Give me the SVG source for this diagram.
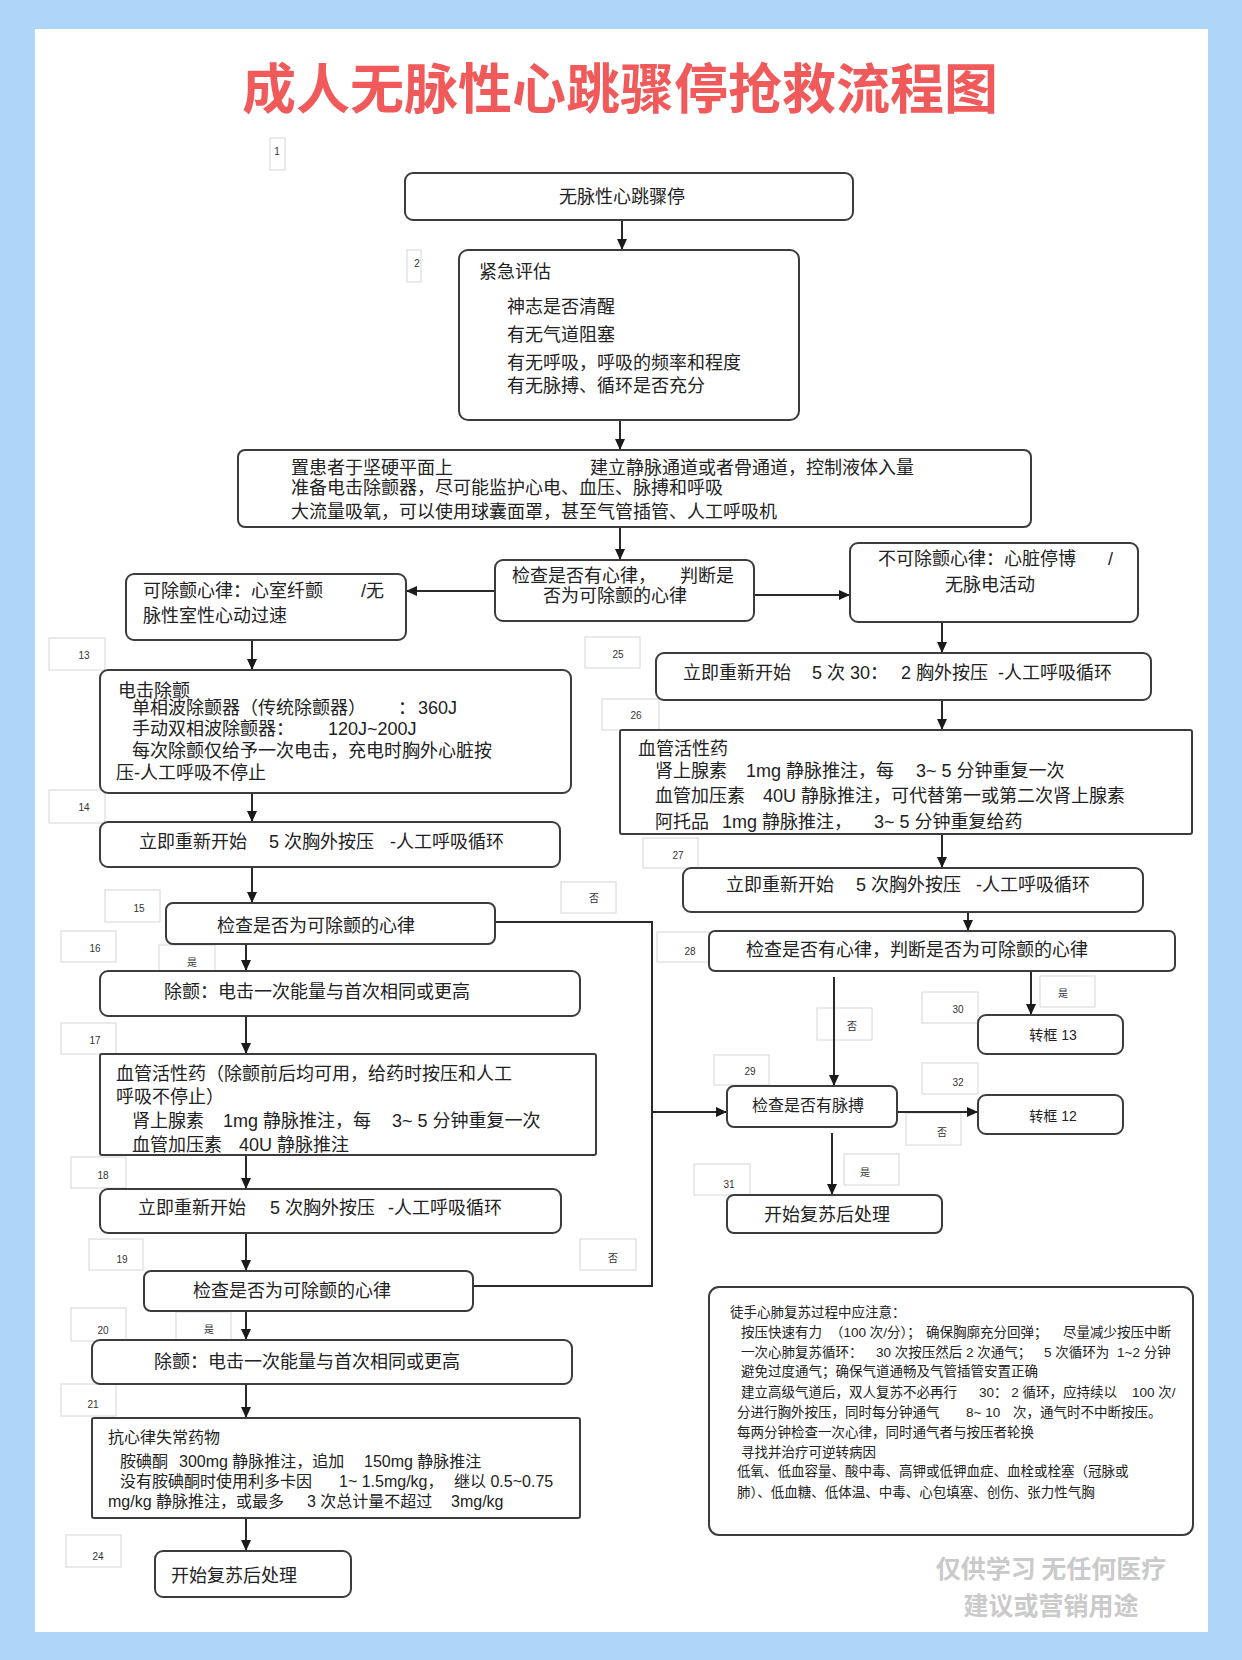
<svg xmlns="http://www.w3.org/2000/svg" width="1242" height="1660" viewBox="0 0 1242 1660">
<defs>
<style>
.t{font-family:"Liberation Sans","Noto Sans CJK SC",sans-serif;font-size:18px;fill:#222}
.s16{font-size:16px}
.s14{font-size:14px}
.s13{font-size:13.5px}
.nb{fill:#fff;stroke:#3c3c3c;stroke-width:2}
.lb rect{fill:#fff;stroke:#d6d6d6;stroke-width:1}
.lb text{font-family:"Liberation Sans","Noto Sans CJK SC",sans-serif;font-size:10px;fill:#333;text-anchor:middle}
.c{fill:none;stroke:#2a2a2a;stroke-width:2}
.ttl{font-family:"Noto Sans CJK SC",sans-serif;font-size:54px;font-weight:bold;fill:#f05a5a;text-anchor:middle}
.wm{font-family:"Noto Sans CJK SC",sans-serif;font-size:25px;font-weight:bold;fill:#cacaca;text-anchor:middle}
</style>
<marker id="ah" markerUnits="userSpaceOnUse" markerWidth="12" markerHeight="10" refX="11" refY="5" orient="auto">
<path d="M0,0 L11,5 L0,10 z" fill="#1a1a1a"/>
</marker>
</defs>
<rect x="0" y="0" width="1242" height="1660" fill="#aed6f8"/>
<rect x="35" y="29" width="1173" height="1603" fill="#fff"/>
<text class="ttl" x="620" y="109">成人无脉性心跳骤停抢救流程图</text>

<g id="labels" class="lb">
<g id="lb1"><rect x="270" y="138" width="15" height="32"/><text x="277" y="155">1</text></g>
<g id="lb2"><rect x="407" y="250" width="14" height="32"/><text x="417" y="267">2</text></g>
<g id="lb13"><rect x="49" y="638" width="56" height="32"/><text x="84" y="659">13</text></g>
<g id="lb14"><rect x="49" y="790" width="56" height="33"/><text x="84" y="811">14</text></g>
<g id="lb15"><rect x="105" y="890" width="55" height="32"/><text x="139" y="912">15</text></g>
<g id="lb16"><rect x="61" y="931" width="55" height="31"/><text x="95" y="952">16</text></g>
<g id="lbY16"><rect x="159" y="945" width="56" height="28"/><text x="192" y="966">是</text></g>
<g id="lb17"><rect x="61" y="1023" width="55" height="31"/><text x="95" y="1044">17</text></g>
<g id="lb18"><rect x="71" y="1157" width="55" height="31"/><text x="103" y="1179">18</text></g>
<g id="lb19"><rect x="89" y="1239" width="54" height="31"/><text x="122" y="1263">19</text></g>
<g id="lbN19"><rect x="580" y="1239" width="56" height="31"/><text x="613" y="1262">否</text></g>
<g id="lb20"><rect x="71" y="1308" width="55" height="33"/><text x="103" y="1334">20</text></g>
<g id="lbY20"><rect x="176" y="1312" width="55" height="29"/><text x="209" y="1333">是</text></g>
<g id="lb21"><rect x="61" y="1384" width="55" height="32"/><text x="93" y="1408">21</text></g>
<g id="lb24"><rect x="66" y="1535" width="55" height="32"/><text x="98" y="1560">24</text></g>
<g id="lbN15"><rect x="561" y="882" width="55" height="31"/><text x="594" y="902">否</text></g>
<g id="lb25"><rect x="585" y="637" width="55" height="31"/><text x="618" y="658">25</text></g>
<g id="lb26"><rect x="602" y="699" width="57" height="31"/><text x="636" y="719">26</text></g>
<g id="lb27"><rect x="643" y="838" width="55" height="30"/><text x="678" y="859">27</text></g>
<g id="lb28"><rect x="657" y="932" width="52" height="30"/><text x="690" y="955">28</text></g>
<g id="lbY30"><rect x="1040" y="976" width="55" height="31"/><text x="1063" y="997">是</text></g>
<g id="lb30"><rect x="922" y="992" width="56" height="31"/><text x="958" y="1013">30</text></g>
<g id="lbN29"><rect x="817" y="1008" width="55" height="32"/><text x="852" y="1030">否</text></g>
<g id="lb29"><rect x="714" y="1055" width="55" height="30"/><text x="750" y="1075">29</text></g>
<g id="lb32"><rect x="922" y="1063" width="56" height="31"/><text x="958" y="1086">32</text></g>
<g id="lbN32"><rect x="906" y="1113" width="55" height="32"/><text x="942" y="1136">否</text></g>
<g id="lbY31"><rect x="844" y="1154" width="55" height="31"/><text x="865" y="1176">是</text></g>
<g id="lb31"><rect x="694" y="1164" width="56" height="31"/><text x="729" y="1188">31</text></g>
</g>

<g id="connectors">
<path class="c" d="M622,220 V250" marker-end="url(#ah)"/>
<path class="c" d="M620,420 V450" marker-end="url(#ah)"/>
<path class="c" d="M620,527 V560" marker-end="url(#ah)"/>
<path class="c" d="M495,591 H406" marker-end="url(#ah)"/>
<path class="c" d="M754,595 H850" marker-end="url(#ah)"/>
<path class="c" d="M942,622 V653" marker-end="url(#ah)"/>
<path class="c" d="M942,700 V730" marker-end="url(#ah)"/>
<path class="c" d="M942,834 V868" marker-end="url(#ah)"/>
<path class="c" d="M968,912 V931" marker-end="url(#ah)"/>
<path class="c" d="M1031,971 V1015" marker-end="url(#ah)"/>
<path class="c" d="M834,977 V1086" marker-end="url(#ah)"/>
<path class="c" d="M897,1112 H978" marker-end="url(#ah)"/>
<path class="c" d="M832,1133 V1195" marker-end="url(#ah)"/>
<path class="c" d="M495,922 H652 V1286 H473"/>
<path class="c" d="M652,1112 H727" marker-end="url(#ah)"/>
<path class="c" d="M252,640 V670" marker-end="url(#ah)"/>
<path class="c" d="M252,793 V822" marker-end="url(#ah)"/>
<path class="c" d="M252,867 V903" marker-end="url(#ah)"/>
<path class="c" d="M246,944 V971" marker-end="url(#ah)"/>
<path class="c" d="M246,1016 V1054" marker-end="url(#ah)"/>
<path class="c" d="M246,1155 V1189" marker-end="url(#ah)"/>
<path class="c" d="M246,1233 V1271" marker-end="url(#ah)"/>
<path class="c" d="M246,1311 V1340" marker-end="url(#ah)"/>
<path class="c" d="M246,1384 V1418" marker-end="url(#ah)"/>
<path class="c" d="M246,1518 V1551" marker-end="url(#ah)"/>
</g>

<g id="n1"><rect class="nb" x="405" y="173" width="448" height="47" rx="8"/><text class="t" x="622" y="203" text-anchor="middle">无脉性心跳骤停</text></g>

<g id="n2"><rect class="nb" x="459" y="250" width="340" height="170" rx="9"/>
<text class="t" x="479" y="278">紧急评估</text>
<text class="t" x="507" y="313">神志是否清醒</text>
<text class="t" x="507" y="341">有无气道阻塞</text>
<text class="t" x="507" y="369">有无呼吸，呼吸的频率和程度</text>
<text class="t" x="507" y="392">有无脉搏、循环是否充分</text>
</g>

<g id="n3"><rect class="nb" x="238" y="450" width="793" height="77" rx="7"/>
<text class="t" y="474"><tspan x="291">置患者于坚硬平面上</tspan><tspan x="590">建立静脉通道或者骨通道，控制液体入量</tspan></text>
<text class="t" x="291" y="494">准备电击除颤器，尽可能监护心电、血压、脉搏和呼吸</text>
<text class="t" x="291" y="518">大流量吸氧，可以使用球囊面罩，甚至气管插管、人工呼吸机</text>
</g>

<g id="n4"><rect class="nb" x="495" y="560" width="259" height="61" rx="8"/>
<text class="t" y="582"><tspan x="512">检查是否有心律，</tspan><tspan x="680">判断是</tspan></text>
<text class="t" x="543" y="602">否为可除颤的心律</text>
</g>

<g id="n5"><rect class="nb" x="126" y="574" width="280" height="66" rx="8"/>
<text class="t" y="597"><tspan x="143">可除颤心律：心室纤颤</tspan><tspan x="361">/无</tspan></text>
<text class="t" x="143" y="622">脉性室性心动过速</text>
</g>

<g id="n6"><rect class="nb" x="850" y="543" width="288" height="79" rx="8"/>
<text class="t" y="565"><tspan x="878">不可除颤心律：心脏停博</tspan><tspan x="1108">/</tspan></text>
<text class="t" x="990" y="591" text-anchor="middle">无脉电活动</text>
</g>

<g id="n25"><rect class="nb" x="656" y="653" width="495" height="47" rx="8"/>
<text class="t" y="679"><tspan x="683">立即重新开始</tspan><tspan x="812">5 次 30：</tspan><tspan x="901">2 胸外按压</tspan><tspan x="998">-人工呼吸循环</tspan></text>
</g>

<g id="n26"><rect class="nb" x="620" y="730" width="572" height="104" rx="2"/>
<text class="t" x="638" y="755">血管活性药</text>
<text class="t" y="777"><tspan x="655">肾上腺素</tspan><tspan x="746">1mg 静脉推注，每</tspan><tspan x="916">3~ 5 分钟重复一次</tspan></text>
<text class="t" y="802"><tspan x="655">血管加压素</tspan><tspan x="763">40U 静脉推注，可代替第一或第二次肾上腺素</tspan></text>
<text class="t" y="828"><tspan x="655">阿托品</tspan><tspan x="722">1mg 静脉推注，</tspan><tspan x="874">3~ 5 分钟重复给药</tspan></text>
</g>

<g id="n27"><rect class="nb" x="683" y="868" width="460" height="44" rx="8"/>
<text class="t" y="891"><tspan x="726">立即重新开始</tspan><tspan x="856">5 次胸外按压</tspan><tspan x="976">-人工呼吸循环</tspan></text>
</g>

<g id="n28"><rect class="nb" x="709" y="931" width="466" height="40" rx="6"/>
<text class="t" x="746" y="956">检查是否有心律，判断是否为可除颤的心律</text>
</g>

<g id="n30"><rect class="nb" x="978" y="1015" width="145" height="39" rx="8"/>
<text class="t s14" x="1053" y="1040" text-anchor="middle">转框  13</text>
</g>

<g id="n29"><rect class="nb" x="727" y="1086" width="170" height="41" rx="7"/>
<text class="t s16" x="752" y="1111">检查是否有脉搏</text>
</g>

<g id="n32"><rect class="nb" x="978" y="1095" width="145" height="39" rx="8"/>
<text class="t s14" x="1053" y="1121" text-anchor="middle">转框  12</text>
</g>

<g id="n31"><rect class="nb" x="727" y="1195" width="215" height="38" rx="7"/>
<text class="t" x="764" y="1221">开始复苏后处理</text>
</g>

<g id="n13"><rect class="nb" x="100" y="670" width="471" height="123" rx="8"/>
<text class="t" x="118" y="697">电击除颤</text>
<text class="t" y="714"><tspan x="132">单相波除颤器（传统除颤器）</tspan><tspan x="398">：</tspan><tspan x="418">360J</tspan></text>
<text class="t" y="735"><tspan x="132">手动双相波除颤器：</tspan><tspan x="328">120J~200J</tspan></text>
<text class="t" x="132" y="757">每次除颤仅给予一次电击，充电时胸外心脏按</text>
<text class="t" x="116" y="779">压-人工呼吸不停止</text>
</g>

<g id="n14"><rect class="nb" x="100" y="822" width="460" height="45" rx="8"/>
<text class="t" y="848"><tspan x="139">立即重新开始</tspan><tspan x="269">5 次胸外按压</tspan><tspan x="390">-人工呼吸循环</tspan></text>
</g>

<g id="n15"><rect class="nb" x="166" y="903" width="329" height="41" rx="7"/>
<text class="t" x="217" y="932">检查是否为可除颤的心律</text>
</g>

<g id="n16"><rect class="nb" x="100" y="971" width="480" height="45" rx="8"/>
<text class="t" x="164" y="998">除颤：电击一次能量与首次相同或更高</text>
</g>

<g id="n17"><rect class="nb" x="100" y="1054" width="496" height="101" rx="2"/>
<text class="t" x="116" y="1080">血管活性药（除颤前后均可用，给药时按压和人工</text>
<text class="t" x="116" y="1103">呼吸不停止）</text>
<text class="t" y="1127"><tspan x="132">肾上腺素</tspan><tspan x="223">1mg 静脉推注，每</tspan><tspan x="392">3~ 5 分钟重复一次</tspan></text>
<text class="t" y="1151"><tspan x="132">血管加压素</tspan><tspan x="239">40U 静脉推注</tspan></text>
</g>

<g id="n18"><rect class="nb" x="100" y="1189" width="461" height="44" rx="8"/>
<text class="t" y="1214"><tspan x="138">立即重新开始</tspan><tspan x="270">5 次胸外按压</tspan><tspan x="388">-人工呼吸循环</tspan></text>
</g>

<g id="n19"><rect class="nb" x="144" y="1271" width="329" height="40" rx="7"/>
<text class="t" x="193" y="1297">检查是否为可除颤的心律</text>
</g>

<g id="n20"><rect class="nb" x="92" y="1340" width="480" height="44" rx="8"/>
<text class="t" x="154" y="1368">除颤：电击一次能量与首次相同或更高</text>
</g>

<g id="n21"><rect class="nb" x="92" y="1418" width="488" height="100" rx="2"/>
<text class="t s16" x="108" y="1443">抗心律失常药物</text>
<text class="t s16" y="1467"><tspan x="120">胺碘酮</tspan><tspan x="179">300mg 静脉推注，追加</tspan><tspan x="364">150mg 静脉推注</tspan></text>
<text class="t s16" y="1487"><tspan x="120">没有胺碘酮时使用利多卡因</tspan><tspan x="339">1~ 1.5mg/kg，</tspan><tspan x="454">继以  0.5~0.75</tspan></text>
<text class="t s16" y="1507"><tspan x="108">mg/kg  静脉推注，或最多</tspan><tspan x="307">3 次总计量不超过</tspan><tspan x="451">3mg/kg</tspan></text>
</g>

<g id="n24"><rect class="nb" x="155" y="1551" width="196" height="46" rx="8"/>
<text class="t" x="171" y="1582">开始复苏后处理</text>
</g>

<g id="notes"><rect class="nb" x="709" y="1287" width="484" height="248" rx="10"/>
<text class="t s13" x="730" y="1317">徒手心肺复苏过程中应注意：</text>
<text class="t s13" y="1337"><tspan x="741">按压快速有力</tspan><tspan x="830">（100 次/分）；</tspan><tspan x="926">确保胸廓充分回弹；</tspan><tspan x="1063">尽量减少按压中断</tspan></text>
<text class="t s13" y="1357"><tspan x="741">一次心肺复苏循环：</tspan><tspan x="876">30 次按压然后  2 次通气；</tspan><tspan x="1044">5 次循环为</tspan><tspan x="1117">1~2 分钟</tspan></text>
<text class="t s13" x="741" y="1376">避免过度通气；确保气道通畅及气管插管安置正确</text>
<text class="t s13" y="1397"><tspan x="741">建立高级气道后，双人复苏不必再行</tspan><tspan x="979">30： 2 循环，应持续以</tspan><tspan x="1132">100 次/</tspan></text>
<text class="t s13" y="1417"><tspan x="737">分进行胸外按压，同时每分钟通气</tspan><tspan x="966">8~ 10</tspan><tspan x="1013">次，通气时不中断按压。</tspan></text>
<text class="t s13" x="737" y="1437">每两分钟检查一次心律，同时通气者与按压者轮换</text>
<text class="t s13" x="741" y="1457">寻找并治疗可逆转病因</text>
<text class="t s13" x="737" y="1476">低氧、低血容量、酸中毒、高钾或低钾血症、血栓或栓塞（冠脉或</text>
<text class="t s13" x="737" y="1497">肺）、低血糖、低体温、中毒、心包填塞、创伤、张力性气胸</text>
</g>

<g id="watermark">
<text class="wm" x="1051" y="1578">仅供学习 无任何医疗</text>
<text class="wm" x="1051" y="1615">建议或营销用途</text>
</g>
</svg>
